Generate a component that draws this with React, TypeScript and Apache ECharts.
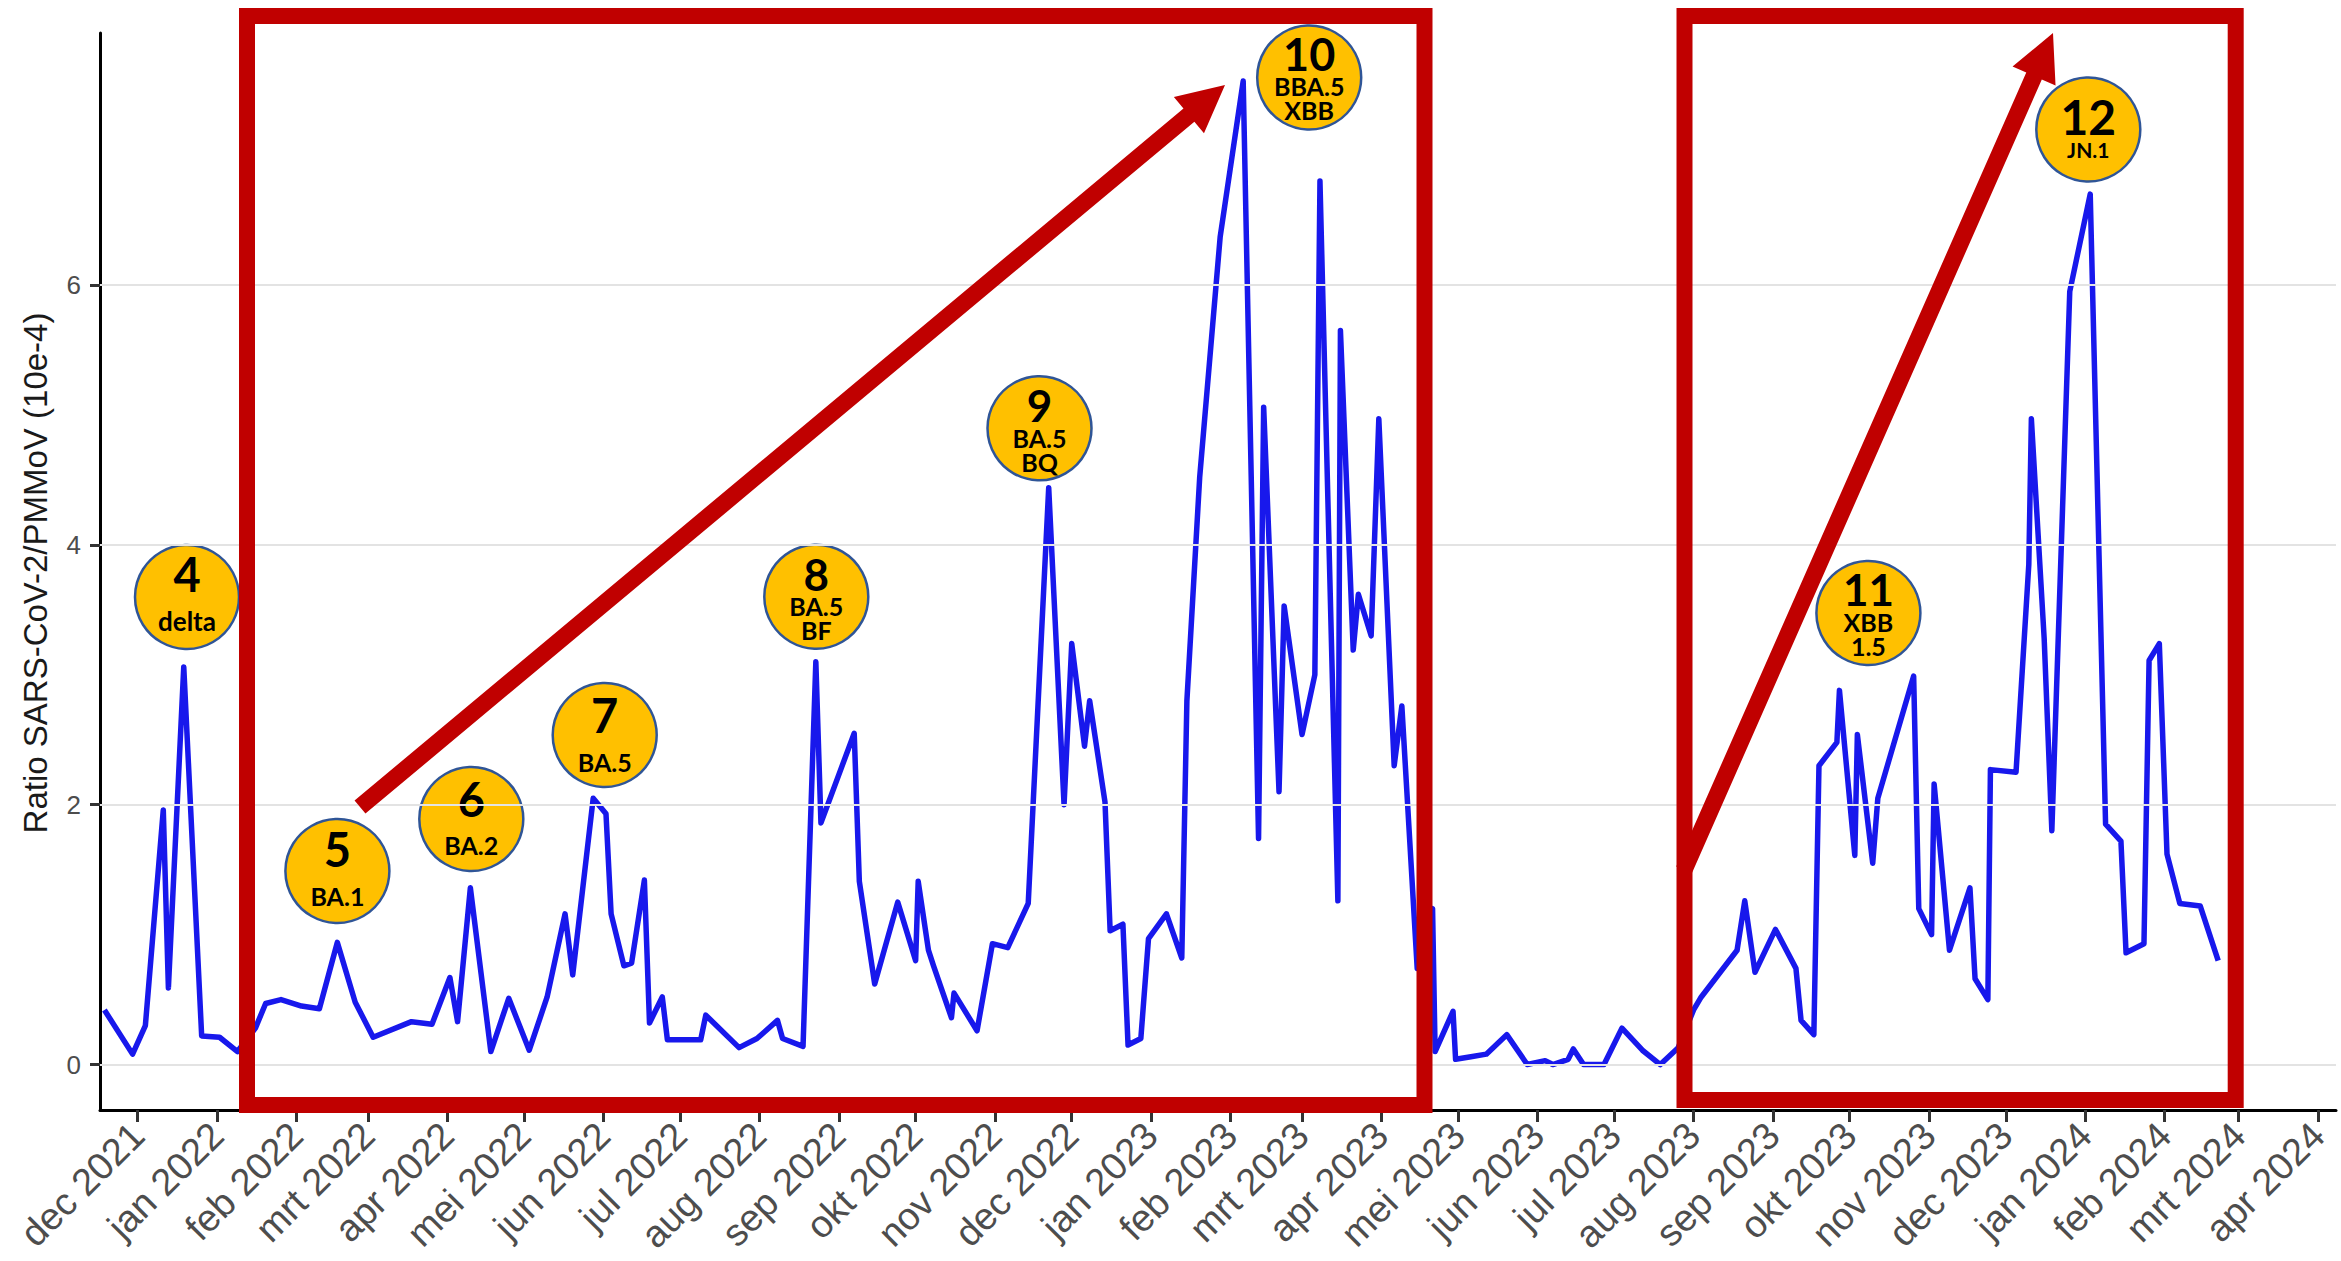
import { useEffect, useRef } from "react";
import * as echarts from "echarts";

// Sample dates and SARS-CoV-2/PMMoV ratios (x 10e-4)
const SAMPLE_DATES = [
  "2021-11-18", "2021-11-29", "2021-12-04", "2021-12-11", "2021-12-13", "2021-12-19", "2021-12-26",
  "2022-01-02", "2022-01-09", "2022-01-16", "2022-01-20", "2022-01-26", "2022-02-03", "2022-02-10",
  "2022-02-17", "2022-02-24", "2022-03-03", "2022-03-18", "2022-03-26", "2022-04-02", "2022-04-05",
  "2022-04-10", "2022-04-18", "2022-04-25", "2022-05-03", "2022-05-10", "2022-05-17", "2022-05-20",
  "2022-05-28", "2022-06-02", "2022-06-04", "2022-06-09", "2022-06-12", "2022-06-17", "2022-06-19",
  "2022-06-24", "2022-06-26", "2022-07-09", "2022-07-11", "2022-07-24", "2022-07-31", "2022-08-08",
  "2022-08-10", "2022-08-18", "2022-08-23", "2022-08-25", "2022-09-07", "2022-09-09", "2022-09-15",
  "2022-09-24", "2022-10-01", "2022-10-02", "2022-10-06", "2022-10-08", "2022-10-15", "2022-10-16",
  "2022-10-25", "2022-10-31", "2022-11-06", "2022-11-14", "2022-11-22", "2022-11-28", "2022-12-01",
  "2022-12-06", "2022-12-08", "2022-12-14", "2022-12-16", "2022-12-21", "2022-12-23", "2022-12-28",
  "2022-12-31", "2023-01-07", "2023-01-13", "2023-01-15", "2023-01-20", "2023-01-28", "2023-02-06",
  "2023-02-12", "2023-02-14", "2023-02-20", "2023-02-22", "2023-03-01", "2023-03-06", "2023-03-08",
  "2023-03-15", "2023-03-16", "2023-03-21", "2023-03-23", "2023-03-28", "2023-03-31", "2023-04-06",
  "2023-04-09", "2023-04-15", "2023-04-21", "2023-04-22", "2023-04-29", "2023-04-30", "2023-05-06",
  "2023-05-12", "2023-05-20", "2023-05-28", "2023-06-04", "2023-06-07", "2023-06-13", "2023-06-15",
  "2023-06-19", "2023-06-27", "2023-07-04", "2023-07-12", "2023-07-19", "2023-07-26", "2023-08-01",
  "2023-08-04", "2023-08-18", "2023-08-21", "2023-08-25", "2023-09-02", "2023-09-10", "2023-09-12",
  "2023-09-17", "2023-09-19", "2023-09-26", "2023-09-27", "2023-10-03", "2023-10-04", "2023-10-10",
  "2023-10-12", "2023-10-26", "2023-10-28", "2023-11-02", "2023-11-03", "2023-11-09", "2023-11-17",
  "2023-11-19", "2023-11-24", "2023-11-25", "2023-12-05", "2023-12-10", "2023-12-11", "2023-12-16",
  "2023-12-19", "2023-12-26", "2024-01-03", "2024-01-09", "2024-01-15", "2024-01-17", "2024-01-24",
  "2024-01-26", "2024-01-30", "2024-02-02", "2024-02-07", "2024-02-15", "2024-02-22",
];

const RATIO_VALUES = [
  0.42, 0.08, 0.30, 1.96, 0.59, 3.06, 0.22,
  0.21, 0.10, 0.28, 0.47, 0.50, 0.45, 0.43,
  0.94, 0.48, 0.21, 0.33, 0.31, 0.67, 0.33,
  1.36, 0.10, 0.51, 0.11, 0.52, 1.16, 0.69,
  2.05, 1.93, 1.16, 0.76, 0.78, 1.42, 0.32,
  0.52, 0.19, 0.19, 0.38, 0.13, 0.20, 0.34,
  0.20, 0.14, 3.10, 1.86, 2.55, 1.41, 0.62,
  1.25, 0.80, 1.41, 0.88, 0.76, 0.36, 0.55,
  0.26, 0.93, 0.90, 1.24, 4.44, 2.00, 3.24,
  2.45, 2.80, 2.02, 1.03, 1.08, 0.15, 0.20,
  0.97, 1.16, 0.82, 2.80, 4.52, 6.37, 7.57,
  1.74, 5.06, 2.10, 3.53, 2.54, 3.00, 6.80,
  1.26, 5.65, 3.19, 3.62, 3.30, 4.97, 2.30,
  2.76, 0.74, 1.20, 0.10, 0.41, 0.04, 0.06,
  0.08, 0.23, 0.00, 0.03, 0.00, 0.04, 0.12,
  0.00, 0.00, 0.28, 0.11, 0.00, 0.13, 0.42,
  0.52, 0.88, 1.26, 0.71, 1.04, 0.74, 0.34,
  0.23, 2.30, 2.48, 2.88, 1.61, 2.54, 1.55,
  2.05, 2.99, 1.20, 1.00, 2.16, 0.88, 1.36,
  0.66, 0.50, 2.27, 2.25, 3.85, 4.97, 3.28,
  1.80, 5.95, 6.70, 1.85, 1.72, 0.86, 0.93,
  3.11, 3.24, 1.62, 1.24, 1.22, 0.80,
];

// Monthly axis ticks and Dutch month abbreviations
const MONTH_TICKS = [
  "2021-12-01", "2022-01-01", "2022-02-01", "2022-03-01", "2022-04-01", "2022-05-01",
  "2022-06-01", "2022-07-01", "2022-08-01", "2022-09-01", "2022-10-01", "2022-11-01",
  "2022-12-01", "2023-01-01", "2023-02-01", "2023-03-01", "2023-04-01", "2023-05-01",
  "2023-06-01", "2023-07-01", "2023-08-01", "2023-09-01", "2023-10-01", "2023-11-01",
  "2023-12-01", "2024-01-01", "2024-02-01", "2024-03-01", "2024-04-01",
];
const MONTH_NAMES = ["jan", "feb", "mrt", "apr", "mei", "jun", "jul", "aug", "sep", "okt", "nov", "dec"];

const Y_TICKS = [0, 2, 4, 6];
const Y_TITLE = "Ratio SARS-CoV-2/PMMoV (10e-4)";

const X_MIN = "2021-11-16T06:30:00Z";
const X_MAX = "2024-04-08T01:00:00Z";
const Y_MIN = -0.35;
const Y_MAX = 7.94;

// Variant wave badges
const BADGE_NUMBERS = ["4", "5", "6", "7", "8", "9", "10", "11", "12"];
const BADGE_LABELS = [
  ["delta"], ["BA.1"], ["BA.2"], ["BA.5"], ["BA.5", "BF"], ["BA.5", "BQ"],
  ["BBA.5", "XBB"], ["XBB", "1.5"], ["JN.1"],
];

// Badge layout (pixels)
const BADGE_CENTERS = [
  [187, 597], [337.4, 871], [471.3, 819], [604.7, 735], [816.3, 596.7],
  [1039.5, 428.3], [1309.2, 77.5], [1868.4, 613], [2088.3, 129.5],
];
const BADGE_SHIFT = [0.5, 1.5, 3, 3.5, 1, 1, 0.5, 0, 3];
const BADGE_NUMBER_SIZE = [47, 47, 47, 47, 44, 44, 45, 44, 48];
const BADGE_NUMBER_LINE = [47, 47, 46, 47, 41, 41, 40, 42, 33];
const BADGE_LABEL_SIZE = [26, 25, 25, 25, 25, 25, 25, 25, 21];
const BADGE_LABEL_LINE = [47, 47, 46, 47, 24, 24, 24, 24, 33];
const BADGE_RADIUS = 52;

// Highlight frames and trend arrows (pixels)
const FRAMES = [
  { x: 247, y: 16, w: 1177.5, h: 1089 },
  { x: 1684.5, y: 16, w: 551.2, h: 1084 },
];
const ARROWS = [
  { from: [360, 807], to: [1225, 85] },
  { from: [1684, 870], to: [2053, 33] },
];

const RED = "#C00000";

const toTime = (s: string) => Date.parse(s.length === 10 ? s + "T00:00:00Z" : s);

function arrowPoints(from: number[], to: number[]) {
  const shaft = 17;
  const headLen = 47;
  const headW = 47;
  const dx = to[0] - from[0];
  const dy = to[1] - from[1];
  const len = Math.hypot(dx, dy);
  const ux = dx / len;
  const uy = dy / len;
  const nx = -uy;
  const ny = ux;
  const bx = to[0] - ux * headLen;
  const by = to[1] - uy * headLen;
  const p = (x: number, y: number, k: number) => [x + nx * k, y + ny * k];
  return [
    p(from[0], from[1], shaft / 2),
    p(bx, by, shaft / 2),
    p(bx, by, headW / 2),
    [to[0], to[1]],
    p(bx, by, -headW / 2),
    p(bx, by, -shaft / 2),
    p(from[0], from[1], -shaft / 2),
  ];
}

function buildGraphics() {
  const els: any[] = [];

  els.push({
    type: "text",
    x: 35.5,
    y: 573,
    rotation: Math.PI / 2,
    z: 50,
    style: {
      text: Y_TITLE,
      fontSize: 33,
      fontFamily: "Liberation Sans",
      fill: "#1a1a1a",
      align: "center",
      verticalAlign: "middle",
    },
  });

  FRAMES.forEach((f) => {
    els.push({
      type: "rect",
      z: 100,
      shape: { x: f.x, y: f.y, width: f.w, height: f.h },
      style: { fill: "none", stroke: RED, lineWidth: 16, lineJoin: "miter" },
    });
  });

  ARROWS.forEach((a) => {
    els.push({
      type: "polygon",
      z: 101,
      shape: { points: arrowPoints(a.from, a.to) },
      style: { fill: RED, stroke: "none" },
    });
  });

  BADGE_NUMBERS.forEach((num, i) => {
    const [cx, cy] = BADGE_CENTERS[i];
    const lines = ["{n|" + num + "}"].concat(BADGE_LABELS[i].map((l) => "{l|" + l + "}"));
    els.push({
      type: "group",
      z: 102,
      children: [
        {
          type: "circle",
          shape: { cx, cy, r: BADGE_RADIUS },
          style: { fill: "#FFC000", stroke: "#2F5597", lineWidth: 2.5 },
        },
        {
          type: "text",
          x: cx,
          y: cy + BADGE_SHIFT[i],
          style: {
            text: lines.join("\n"),
            align: "center",
            verticalAlign: "middle",
            fontFamily: "Lato",
            fontWeight: "bold",
            fill: "#000",
            rich: {
              n: {
                fontSize: BADGE_NUMBER_SIZE[i],
                lineHeight: BADGE_NUMBER_LINE[i],
                fontWeight: "bold",
                fontFamily: "Lato",
                fill: "#000",
                align: "center",
              },
              l: {
                fontSize: BADGE_LABEL_SIZE[i],
                lineHeight: BADGE_LABEL_LINE[i],
                fontWeight: "bold",
                fontFamily: "Lato",
                fill: "#000",
                align: "center",
              },
            },
          },
        },
      ],
    });
  });

  return els;
}

export default function App() {
  const ref = useRef<HTMLDivElement>(null);

  useEffect(() => {
    if (!ref.current) return;
    document.body.style.margin = "0";
    const chart = echarts.init(ref.current, undefined, { renderer: "svg" });

    const monthTimes = MONTH_TICKS.map(toTime);
    const linePoints = SAMPLE_DATES.map((d, i) => [toTime(d), RATIO_VALUES[i]]);

    chart.setOption({
      animation: false,
      backgroundColor: "#ffffff",
      textStyle: { fontFamily: "Liberation Sans" },
      grid: {
        left: 100,
        right: 5,
        top: 33,
        bottom: 151,
        containLabel: false,
        outerBoundsMode: "none",
      },
      xAxis: {
        // timestamps on a linear axis so that month ticks can be placed exactly
        type: "value",
        min: toTime(X_MIN),
        max: toTime(X_MAX),
        axisLine: { show: true, onZero: false, lineStyle: { color: "#000", width: 3 } },
        axisTick: {
          show: true,
          customValues: monthTimes,
          length: 12,
          lineStyle: { color: "#333", width: 3 },
        },
        axisLabel: {
          customValues: monthTimes,
          formatter: (v: number) => {
            const d = new Date(v);
            return MONTH_NAMES[d.getUTCMonth()] + " " + d.getUTCFullYear();
          },
          rotate: 45,
          align: "right",
          verticalAlign: "middle",
          margin: 19,
          fontSize: 38,
          color: "#4d4d4d",
          fontFamily: "Liberation Sans",
        },
        splitLine: { show: false },
      },
      yAxis: {
        type: "value",
        min: Y_MIN,
        max: Y_MAX,
        axisLine: { show: true, onZero: false, lineStyle: { color: "#000", width: 3 } },
        axisTick: {
          show: true,
          customValues: Y_TICKS,
          length: 10,
          lineStyle: { color: "#333", width: 3 },
        },
        axisLabel: {
          customValues: Y_TICKS,
          fontSize: 26,
          color: "#4d4d4d",
          margin: 19,
          fontFamily: "Liberation Sans",
        },
        splitLine: { show: false },
      },
      series: [
        {
          type: "line",
          data: [],
          z: 1,
          silent: true,
          markLine: {
            silent: true,
            symbol: "none",
            label: { show: false },
            lineStyle: { color: "#e3e3e3", width: 2, type: "solid" },
            data: Y_TICKS.map((v) => ({ yAxis: v })),
          },
        },
        {
          type: "line",
          data: linePoints,
          showSymbol: false,
          z: 3,
          lineStyle: { color: "#1818ec", width: 5.5, join: "round" },
        },
      ],
      graphic: buildGraphics(),
    });

    return () => chart.dispose();
  }, []);

  return (
    <div
      ref={ref}
      style={{ position: "absolute", left: 0, top: 0, width: 2341, height: 1261, background: "#fff" }}
    />
  );
}
